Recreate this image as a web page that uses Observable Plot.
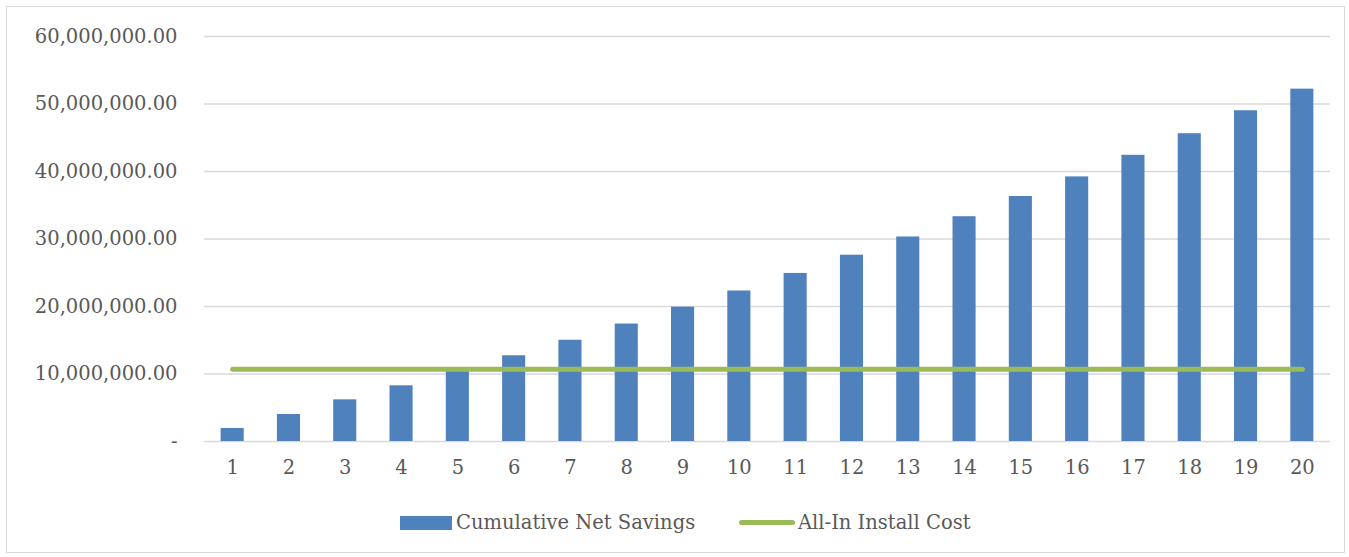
<!DOCTYPE html>
<html>
<head>
<meta charset="utf-8">
<script src="https://cdn.jsdelivr.net/npm/d3@7"></script>
<script src="https://cdn.jsdelivr.net/npm/@observablehq/plot@0.6"></script>
<style>
  html, body { margin: 0; padding: 0; background: #fff; }
  #wrap { position: relative; width: 1349px; height: 557px; overflow: hidden; font-family: "DejaVu Serif", serif; color: #595959; }
  #frame { position: absolute; left: 6px; top: 6px; width: 1339px; height: 547px; border: 1px solid #d9d9d9; box-sizing: border-box; }
  #chart { position: absolute; left: 0; top: 0; }
  .lg { position: absolute; font-size: 19.5px; white-space: nowrap; line-height: 24px; }
  .sw-bar { position: absolute; left: 400px; top: 516px; width: 52px; height: 14px; background: #4f81bd; }
  .sw-line { position: absolute; left: 739px; top: 520px; width: 56px; height: 5px; border-radius: 3px; background: #9bbb59; }
</style>
</head>
<body>
<div id="wrap">
  <div id="frame"></div>
  <div id="chart"></div>
  <div class="sw-bar"></div><span class="lg" style="left:456px; top:511px;">Cumulative Net Savings</span>
  <div class="sw-line"></div><span class="lg" style="left:798px; top:511px;">All-In Install Cost</span>
</div>
<script>
const years = [1, 2, 3, 4, 5, 6, 7, 8, 9, 10, 11, 12, 13, 14, 15, 16, 17, 18, 19, 20];
const cumulativeNetSavings = [1930000, 4000000, 6170000, 8250000, 10400000, 12700000, 15000000, 17400000, 19900000, 22300000,
  24900000, 27600000, 30300000, 33300000, 36300000, 39200000, 42400000, 45600000, 49000000, 52200000];
const allInInstallCost = [10700000, 10700000, 10700000, 10700000, 10700000, 10700000, 10700000, 10700000, 10700000, 10700000,
  10700000, 10700000, 10700000, 10700000, 10700000, 10700000, 10700000, 10700000, 10700000, 10700000];
const yTicks = [0, 10000000, 20000000, 30000000, 40000000, 50000000, 60000000];

const rows = years.map((y, i) => ({year: y, savings: cumulativeNetSavings[i], cost: allInInstallCost[i]}));
const fmt = d3.format(",.2f");

const chart = Plot.plot({
  width: 1349,
  height: 490,
  marginTop: 36,
  marginBottom: 49,
  marginLeft: 204,
  marginRight: 19,
  style: {fontFamily: "DejaVu Serif, serif", fontSize: "19.5px", color: "#595959", background: "transparent", overflow: "visible"},
  x: {type: "band", domain: years, paddingInner: 0.59, paddingOuter: 0.295, round: false, label: null},
  y: {domain: [0, 60000000], label: null},
  marks: [
    Plot.ruleY(yTicks, {stroke: "#d9d9d9", strokeWidth: 1.5}),
    Plot.barY(rows, {x: "year", y: "savings", fill: "#4f81bd"}),
    Plot.lineY(rows, {x: "year", y: "cost", stroke: "#9bbb59", strokeWidth: 5, strokeLinecap: "round"}),
    Plot.axisY({ticks: yTicks, tickSize: 0, tickPadding: 27, tickFormat: d => d === 0 ? "-" : fmt(d), fill: "#595959", label: null}),
    Plot.axisX({tickSize: 0, tickPadding: 19, fill: "#595959", label: null})
  ]
});
document.getElementById("chart").appendChild(chart);
</script>
</body>
</html>
